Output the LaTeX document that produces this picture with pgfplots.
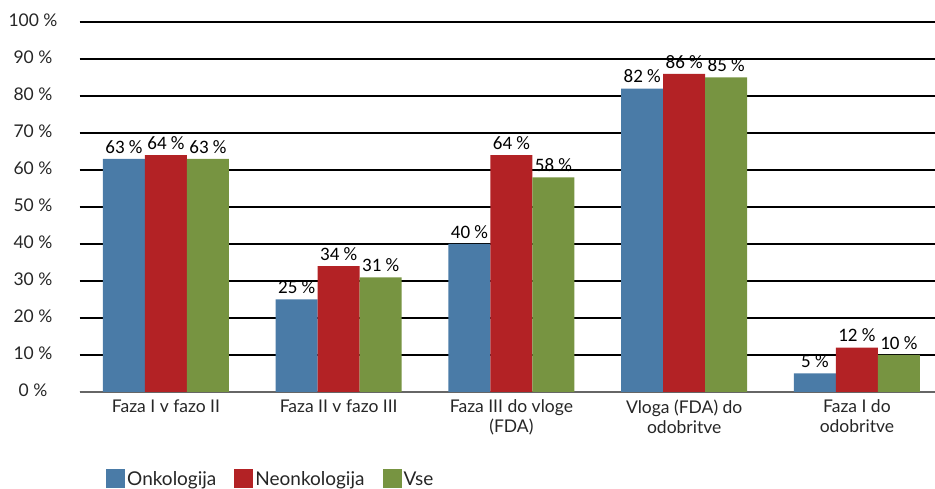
\documentclass[border=0pt]{standalone}
\usepackage{fontspec}
\setmainfont{Lato}
\newfontfamily\lab{Carlito}
\usepackage{pgfplots}
\pgfplotsset{compat=1.18}
\definecolor{cb}{HTML}{4A7BA7}
\definecolor{cr}{HTML}{B32225}
\definecolor{cg}{HTML}{779441}
\begin{document}
\begin{tikzpicture}
\useasboundingbox (-79.6pt,-97pt) rectangle (855.4pt,392pt);
\begin{axis}[
  at={(0pt,0pt)}, anchor=south west,
  scale only axis, width=855.4pt, height=370pt,
  xmin=-0.5, xmax=4.452, ymin=0, ymax=100,
  ybar=0pt, bar width=42pt,
  axis x line*=bottom, axis y line*=left,
  y axis line style={draw=none},
  x axis line style={draw=black!60, line width=1.5pt},
  major tick length=0pt,
  ytick={0,10,...,100},
  ymajorgrids, grid style={black, line width=1.2pt},
  yticklabel={\pgfmathprintnumber{\tick}~\%},
  /pgf/number format/assume math mode=true,
  yticklabel style={anchor=center, xshift=-46.6pt, yshift=2pt, font=\fontsize{17.5}{19}\selectfont, text=black!85},
  xtick={0,1,2,3,4},
  xticklabels={Faza I v fazo II, Faza II v fazo III, Faza III do vloge\\(FDA), Vloga (FDA) do\\odobritve, Faza I do\\odobritve},
  xticklabel style={align=center, yshift=-4pt, font=\fontsize{17.5}{20.5}\selectfont, text=black!85},
  nodes near coords={\pgfmathprintnumber{\pgfplotspointmeta}~\%},
  nodes near coords style={font=\lab\fontsize{19}{20}\selectfont, text=black, yshift=2pt},
  legend columns=-1,
  legend style={at={(0.0309,-0.235)}, anchor=west, draw=none, inner sep=0pt,
    font=\fontsize{19}{20}\selectfont, text=black!85,
    nodes={inner sep=2pt},
    /tikz/every even column/.append style={column sep=16pt}},
  legend image code/.code={\fill[#1] (0pt,-9.5pt) rectangle (19pt,9.5pt);},
]
\addplot[fill=cb, draw=none] coordinates {(0,63) (1,25) (2,40) (3,82) (4,5)};
\addplot[fill=cr, draw=none] coordinates {(0,64) (1,34) (2,64) (3,86) (4,12)};
\addplot[fill=cg, draw=none] coordinates {(0,63) (1,31) (2,58) (3,85) (4,10)};
\legend{Onkologija, Neonkologija, Vse}
\end{axis}
\end{tikzpicture}
\end{document}
